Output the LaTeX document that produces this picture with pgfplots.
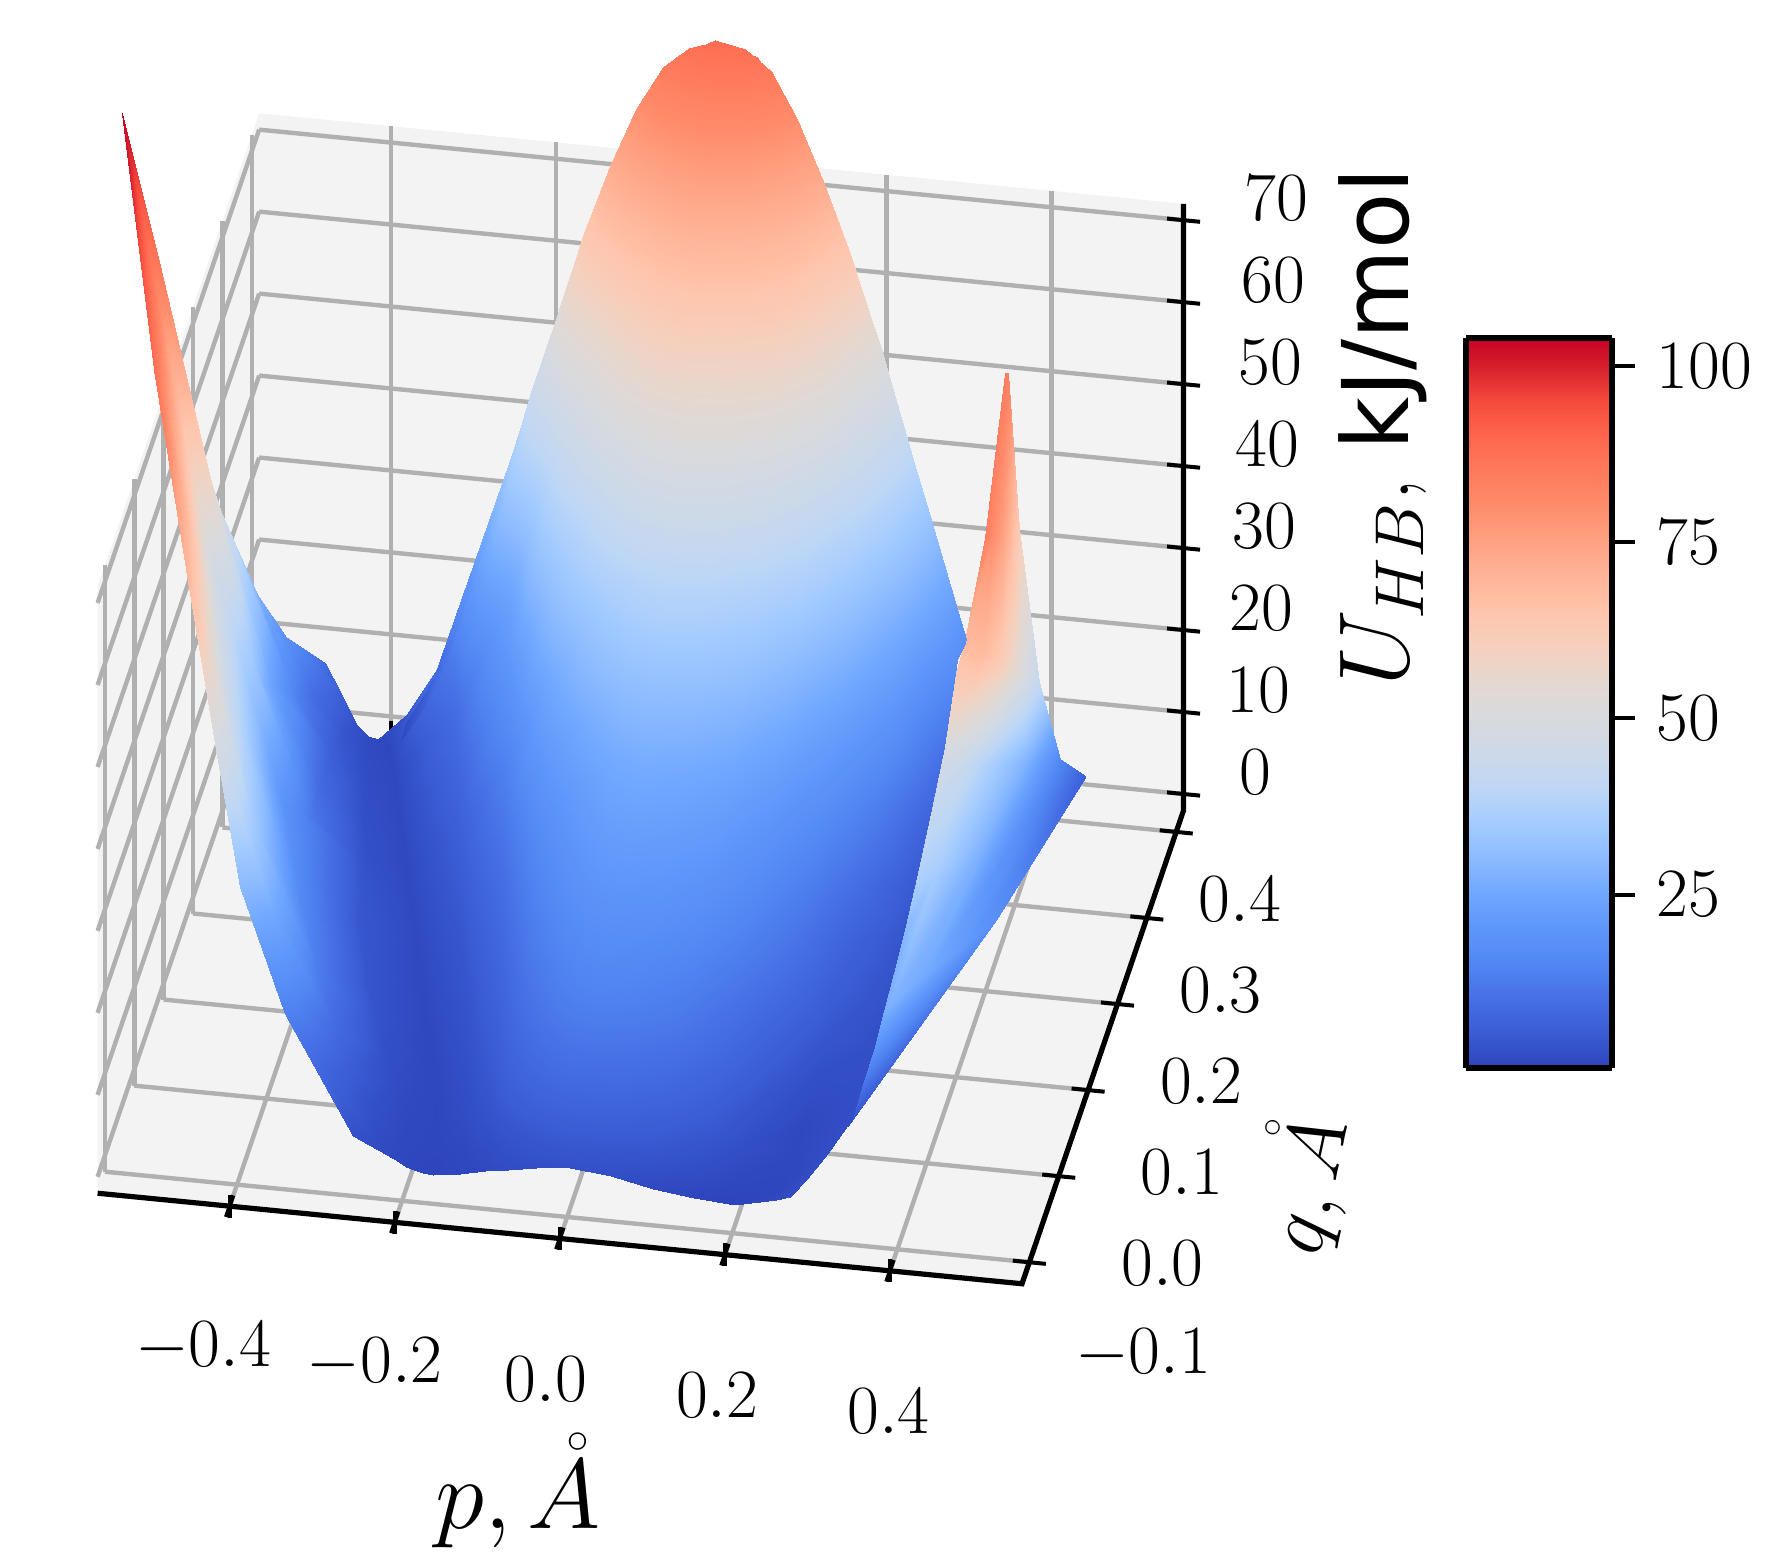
\documentclass[border=0pt]{standalone}
\usepackage{fontspec}
\setsansfont{DejaVu Sans}
\usepackage{amsmath}
\usepackage{pgfplots}
\pgfplotsset{compat=1.18}
\definecolor{wall}{RGB}{243,243,243}
\definecolor{gridgray}{RGB}{176,176,176}
\pgfplotsset{
  colormap={hb}{
    rgb255(0pt)=(45,68,188) rgb255(5pt)=(58,92,212) rgb255(10pt)=(70,112,230)
    rgb255(15pt)=(82,135,243) rgb255(20pt)=(95,150,250) rgb255(25pt)=(112,167,255)
    rgb255(30pt)=(140,187,255) rgb255(35pt)=(165,204,255) rgb255(40pt)=(190,215,245)
    rgb255(45pt)=(205,217,232) rgb255(50pt)=(216,218,222) rgb255(55pt)=(228,216,208)
    rgb255(60pt)=(245,208,190) rgb255(65pt)=(255,197,172) rgb255(70pt)=(255,180,152)
    rgb255(75pt)=(255,162,130) rgb255(80pt)=(255,140,108) rgb255(85pt)=(255,122,92)
    rgb255(90pt)=(255,102,78) rgb255(95pt)=(245,75,60) rgb255(100pt)=(215,30,45)
    rgb255(104pt)=(200,0,35)
  }
}
\begin{document}
\begin{tikzpicture}
\begin{axis}[
  name=ax,
  x={(7.25cm,-0.71cm)}, y={(2.58cm,7.56cm)}, z={(0cm,0.072cm)},
  xmin=-0.56, xmax=0.56, ymin=-0.125, ymax=0.425, zmin=-2, zmax=72,
  clip=false,
  colormap name=hb,
  point meta min=0.4, point meta max=104,
  axis background/.style={fill=wall},
  axis line style={draw=none},
  grid=major,
  grid style={gridgray, line width=1.1pt},
  xtick={-0.4,-0.2,0,0.2,0.4},
  ytick={-0.1,0,0.1,0.2,0.3,0.4},
  ztick={0,10,...,70},
  xtick pos=bottom, xticklabel pos=bottom,
  ytick pos=left, yticklabel pos=left,
  ztick pos=right, zticklabel pos=right,
  scaled ticks=false,
  tick style={black, line width=1pt},
  ytick style={draw=none},
  ztick style={draw=none},
  tick align=center,
  major tick length=0.2cm,
  tick label style={font=\fontsize{16}{18}\selectfont},
  xticklabel style={anchor=center, xshift={(-0.2+0.055*\ticknum)*1cm}, yshift=-1.14cm,
    /pgf/number format/.cd, fixed, fixed zerofill, precision=1},
  yticklabel style={anchor=center, xshift={(0.9-0.088*\ticknum)*1cm}, yshift={(-0.8+0.044*\ticknum)*1cm},
    /pgf/number format/.cd, fixed, fixed zerofill, precision=1},
  zticklabel style={anchor=center, xshift={(0.6+0.026*\ticknum)*1cm}, yshift=0.1cm},
  xlabel={$p,\mathring{A}$},
  every axis x label/.style={at={(axis cs:0.0587,-0.4323,0)}, anchor=center, font=\fontsize{23}{26}\selectfont},
  ylabel={$q,\mathring{A}$},
  every axis y label/.style={at={(axis cs:0.8567,-0.0003,0)}, anchor=center, rotate=78, font=\fontsize{22}{26}\selectfont},
  zlabel={$U_{HB}$, \textsf{kJ/mol}},
  every axis z label/.style={at={(axis cs:0.6472,0.8597,0)}, anchor=center, rotate=90, font=\fontsize{23}{26}\selectfont},
]
% right hand sheet behind the main surface
\addplot3[surf, shader=interp, mesh/cols=5, z buffer=none] coordinates {
(.457,.105,84) (.458,.105,84) (.459,.105,84) (.46,.105,84) (.461,.105,84)
(.4997,-.0827,84) (.495,-.042,80) (.4916,-.0015,76) (.481,.0557,70) (.464,.1335,62)
(.466,-.058,68) (.4925,-.066,68) (.498,-.0194,62) (.4914,.0647,52) (.484,.1474,42)
(.4066,-.0147,48) (.431,.0286,44) (.443,.1077,36) (.4548,.1869,28) (.4535,.3032,16)
(.3804,-.0767,38) (.42,-.0174,36) (.439,.0955,28) (.446,.2469,16) (.458,.379,6)
(.328,-.0459,18) (.3908,-.1022,28) (.4153,-.047,26) (.4326,.0247,22) (.4498,.0965,18)
(.3096,-.0133,3) (.3096,-.0133,3) (.3096,-.0133,3) (.3096,-.0133,3) (.3096,-.0133,3)
};
% main surface, rows from back to front
\addplot3[surf, shader=interp, mesh/cols=17, z buffer=none] coordinates {
(-.47,.395,9) (-.448,.39,6) (-.428,.385,3) (-.415,.387,1.5) (-.403,.389,1) (-.35,.405,5) (-.25,.405,34.5) (-.181,.405,56.5) (-.10,.405,78) (-.048,.405,86) (0,.405,88.5) (.05,.405,87) (.10,.405,79.5) (.15,.405,67.5) (.20,.405,53) (.25,.405,36) (.302,.41,18)
(-.4965,.337,18) (-.467,.35,9.4) (-.438,.363,4.1) (-.411,.375,1.7) (-.39,.385,1.2) (-.312,.385,13.5) (-.242,.385,34.5) (-.176,.385,54) (-.098,.385,73) (-.047,.385,80) (0,.385,82.3) (.05,.385,80.5) (.10,.385,74) (.15,.385,63) (.20,.385,49) (.25,.385,33.5) (.30,.385,18)
(-.514,.29,28) (-.474,.307,14.3) (-.435,.323,5.8) (-.399,.338,2) (-.37,.35,1.2) (-.296,.35,9.5) (-.229,.35,23.9) (-.167,.35,43.9) (-.093,.35,60.4) (-.044,.35,67.6) (0,.35,70) (.05,.35,68.3) (.10,.35,64.5) (.15,.35,55) (.20,.35,42) (.25,.35,28) (.297,.35,11)
(-.524,.194,48) (-.474,.224,24.2) (-.426,.252,9.2) (-.381,.279,2.7) (-.345,.30,1.3) (-.276,.30,7.6) (-.214,.30,18.7) (-.155,.30,34) (-.086,.30,46.6) (-.041,.30,52.2) (0,.30,54) (.05,.30,52.8) (.10,.30,49.4) (.15,.30,41.6) (.20,.30,31.3) (.25,.30,20) (.295,.30,7)
(-.526,.13,62) (-.468,.164,31) (-.413,.196,11.6) (-.361,.226,3.1) (-.32,.25,1.3) (-.256,.25,6.1) (-.198,.25,14.4) (-.144,.25,25.9) (-.08,.25,35.4) (-.038,.25,39.6) (0,.25,41) (.05,.25,40) (.10,.25,37.1) (.15,.25,31) (.20,.25,22.8) (.25,.25,13.5) (.297,.25,5)
(-.57,.118,85) (-.493,.141,42.4) (-.419,.163,15.6) (-.35,.184,3.9) (-.295,.20,1.4) (-.236,.20,5.1) (-.183,.20,11.5) (-.133,.20,20.4) (-.074,.20,27.7) (-.035,.20,30.9) (0,.20,32) (.05,.20,31.2) (.10,.20,28.8) (.15,.20,23.5) (.20,.20,17) (.25,.20,9.3) (.30,.20,4)
(-.616,.115,104) (-.5205,.128,51.7) (-.428,.14,18.8) (-.343,.151,4.5) (-.275,.16,1.4) (-.22,.16,4.5) (-.17,.16,9.8) (-.124,.16,17.3) (-.069,.16,23.4) (-.033,.16,26.1) (0,.16,27) (.05,.16,26.2) (.10,.16,24) (.15,.16,19.4) (.20,.16,13.6) (.25,.16,6.9) (.302,.16,3.5)
(-.528,-.023,88) (-.4516,.017,43.8) (-.378,.056,16) (-.31,.091,3.9) (-.255,.12,1.3) (-.204,.12,4) (-.158,.12,8.6) (-.115,.12,15.1) (-.064,.12,20.4) (-.031,.12,22.7) (0,.12,23.5) (.05,.12,22.8) (.10,.12,20.7) (.15,.12,16.5) (.20,.12,11.3) (.25,.12,5.8) (.304,.12,3)
(-.47,-.077,70) (-.404,-.033,34.9) (-.341,.009,12.9) (-.282,.049,3.3) (-.235,.08,1.2) (-.188,.08,3.5) (-.146,.08,7.6) (-.106,.08,13.2) (-.059,.08,17.8) (-.028,.08,19.8) (0,.08,20.5) (.05,.08,19.9) (.10,.08,17.8) (.15,.08,13.8) (.20,.08,9.2) (.25,.08,4.5) (.306,.08,2.5)
(-.435,-.08,50) (-.373,-.046,25.1) (-.314,-.014,9.4) (-.259,.016,2.6) (-.215,.04,1.1) (-.172,.04,3.1) (-.133,.04,6.5) (-.097,.04,11.3) (-.054,.04,15.2) (-.026,.04,16.9) (0,.04,17.5) (.05,.04,16.8) (.10,.04,14.8) (.15,.04,11) (.20,.04,6.5) (.25,.04,2.5) (.308,.04,2.6)
(-.41,-.06,30) (-.35,-.043,15.2) (-.292,-.027,5.9) (-.238,-.012,1.9) (-.195,0,1) (-.156,0,2.6) (-.121,0,5.5) (-.088,0,9.4) (-.049,0,12.6) (-.023,0,14) (0,0,14.5) (.05,0,13.9) (.10,0,11.9) (.15,0,8.4) (.20,0,4.2) (.25,0,1.3) (.31,0,2.5)
(-.36,-.05,14) (-.31,-.047,7.3) (-.261,-.0445,3.1) (-.216,-.042,1.3) (-.18,-.04,.9) (-.144,-.04,2) (-.112,-.04,3.9) (-.081,-.04,6.5) (-.045,-.04,8.7) (-.022,-.04,9.7) (0,-.04,10) (.05,-.04,9.5) (.10,-.04,8) (.15,-.04,5.3) (.20,-.04,2.4) (.25,-.04,1.1) (.295,-.04,2.4)
(-.267,-.079,3) (-.238,-.0765,1.8) (-.211,-.074,1.1) (-.185,-.072,.8) (-.165,-.07,.7) (-.132,-.07,1.3) (-.102,-.07,2.3) (-.074,-.07,3.7) (-.041,-.07,4.8) (-.02,-.07,5.3) (0,-.07,5.5) (.05,-.07,5.2) (.10,-.07,4.3) (.15,-.07,2.6) (.20,-.07,1) (.25,-.07,.8) (.28,-.07,2.2)
(-.215,-.085,1.4) (-.2,-.088,.9) (-.19,-.089,.7) (-.178,-.09,.5) (-.166,-.09,.4) (-.133,-.09,.9) (-.103,-.09,1.5) (-.075,-.09,2) (-.041,-.09,2.5) (-.02,-.09,2.85) (0,-.09,2.9) (.05,-.09,2.5) (.10,-.09,1.4) (.15,-.09,.7) (.20,-.09,.4) (.25,-.09,1.5) (.266,-.09,2)
};
% finer strip along the back edge of the dome
\addplot3[surf, shader=interp, mesh/cols=23, z buffer=none] coordinates {
(-.3745,.405,1.6) (-.348,.405,5.9) (-.3166,.405,13.1) (-.285,.405,23.2) (-.253,.405,33.2) (-.223,.405,43.4) (-.191,.405,53.4) (-.159,.405,63.5) (-.1276,.405,71.9) (-.0959,.405,79.2) (-.0641,.405,84.6) (-.0324,.405,87.3) (.0034,.405,88.5) (.0352,.405,87.8) (.0669,.405,85.4) (.0986,.405,79.9) (.1303,.405,72.7) (.1621,.405,64.4) (.1938,.405,55) (.2241,.405,44.8) (.2559,.405,34.2) (.2876,.405,23.7) (.3028,.405,18)
(-.3745,.385,1.5) (-.348,.385,5.5) (-.3166,.385,12.2) (-.285,.385,21.6) (-.253,.385,30.9) (-.223,.385,40.4) (-.191,.385,49.7) (-.159,.385,59.1) (-.1276,.385,66.9) (-.0959,.385,73.7) (-.0641,.385,78.7) (-.0324,.385,81.2) (.0034,.385,82.3) (.0352,.385,81.7) (.0669,.385,79.4) (.0986,.385,74.3) (.1303,.385,67.6) (.1621,.385,59.9) (.1938,.385,51.2) (.2241,.385,41.7) (.2559,.385,31.8) (.2876,.385,22) (.30,.385,18)
};
% the three black edges of the box, then the q and U ticks on the right hand edges
\addplot3[black, line width=1.3pt, no marks] coordinates {(-0.56,-0.125,-2) (0.56,-0.125,-2) (0.56,0.425,-2) (0.56,0.425,72)};
\addplot3[black, line width=1pt, no marks, unbounded coords=jump] coordinates {
(.54,-.1,-2) (.58,-.1,-2) (nan,nan,nan)
(.54,0,-2) (.58,0,-2) (nan,nan,nan)
(.54,.1,-2) (.58,.1,-2) (nan,nan,nan)
(.54,.2,-2) (.58,.2,-2) (nan,nan,nan)
(.54,.3,-2) (.58,.3,-2) (nan,nan,nan)
(.54,.4,-2) (.58,.4,-2) (nan,nan,nan)
(.54,.425,0) (.58,.425,0) (nan,nan,nan)
(.54,.425,10) (.58,.425,10) (nan,nan,nan)
(.54,.425,20) (.58,.425,20) (nan,nan,nan)
(.54,.425,30) (.58,.425,30) (nan,nan,nan)
(.54,.425,40) (.58,.425,40) (nan,nan,nan)
(.54,.425,50) (.58,.425,50) (nan,nan,nan)
(.54,.425,60) (.58,.425,60) (nan,nan,nan)
(.54,.425,70) (.58,.425,70)
};
\coordinate (cb) at (axis cs:1.001,0.1483,0);
\path (axis cs:-1.1453,1.1874,0) (axis cs:1.5742,-0.3772,0);
\end{axis}
% colour bar as its own small axis
\begin{axis}[
  at={(cb)}, anchor=south west,
  scale only axis, width=1.28cm, height=6.41cm,
  view={0}{90},
  xmin=0, xmax=1, ymin=0.4, ymax=104,
  colormap name=hb,
  point meta min=0.4, point meta max=104,
  xtick=\empty,
  ytick={25,50,75,100},
  ytick pos=right, yticklabel pos=right,
  axis line style={black, line width=1.4pt},
  axis on top,
  tick style={black, line width=1pt},
  tick align=outside,
  major tick length=0.2cm,
  yticklabel style={font=\fontsize{16}{18}\selectfont, xshift=0.07cm},
]
\addplot3[surf, shader=interp, mesh/cols=2, point meta=\thisrow{y}] table {
x y z
0 0.4 0
1 0.4 0
0 104 0
1 104 0
};
\end{axis}
\end{tikzpicture}
\end{document}
